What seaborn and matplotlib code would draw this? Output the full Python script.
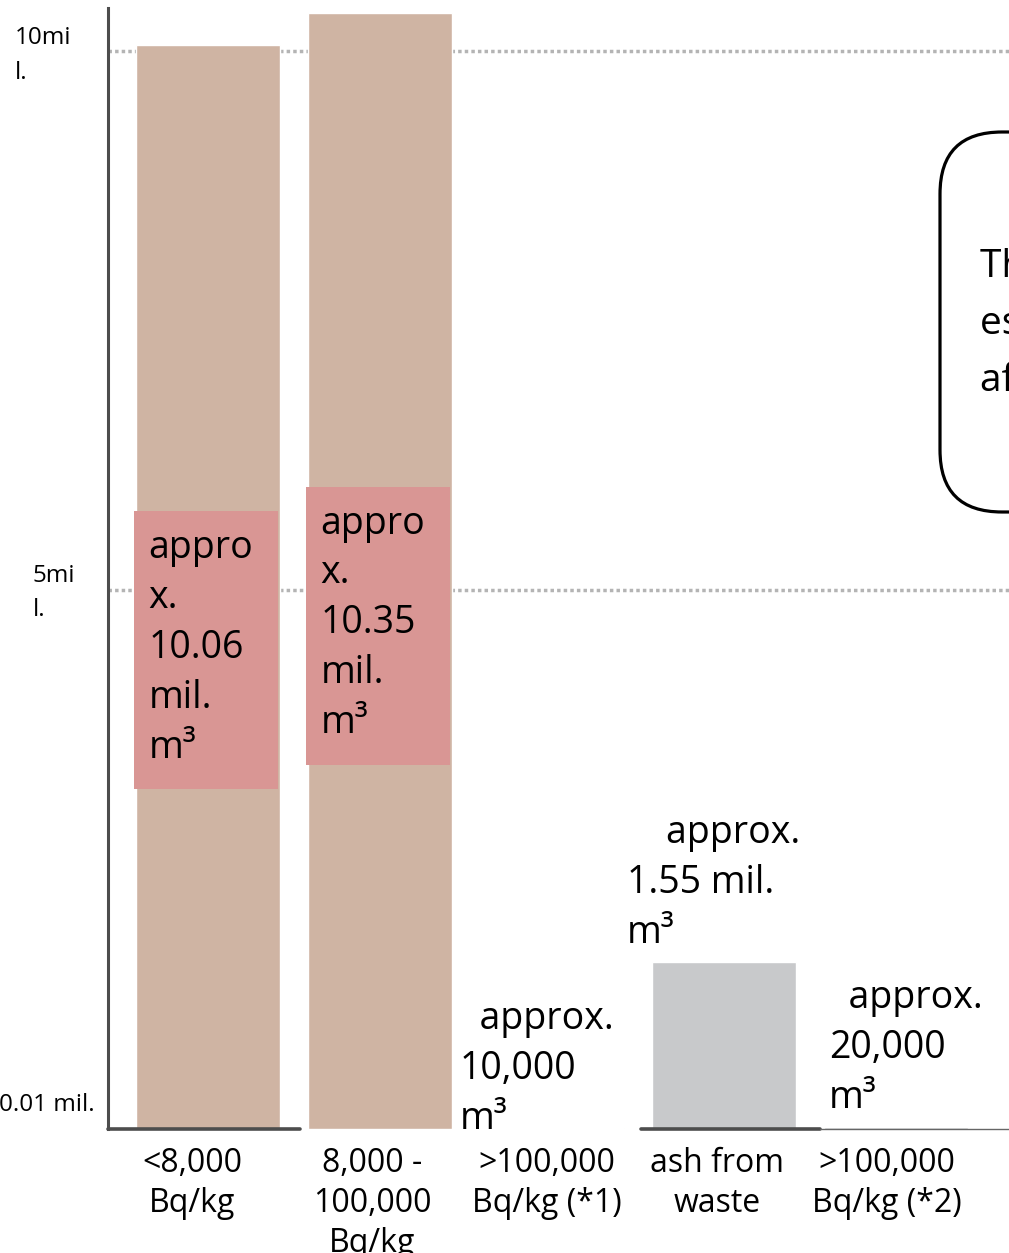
import matplotlib
matplotlib.use("Agg")
import matplotlib.pyplot as plt
import matplotlib.transforms as mtransforms
from matplotlib.patches import FancyBboxPatch, Rectangle
import seaborn as sns
import pandas as pd

# Waste volumes by radioactivity class (million m³)
categories = ["<8,000\nBq/kg", "8,000 -\n100,000\nBq/kg", ">100,000\nBq/kg (*1)",
              "ash from\nwaste", ">100,000\nBq/kg (*2)"]
volumes_mil_m3 = [10.06, 10.35, 0.01, 1.55, 0.02]
value_labels = ["appro\nx.\n10.06\nmil.\nm³", "appro\nx.\n10.35\nmil.\nm³",
                "  approx.\n10,000\nm³", "    approx.\n1.55 mil.\nm³",
                "  approx.\n20,000\nm³"]
ytick_values = [0.01, 5, 10]
ytick_labels = ["0.01 mil.", "5mi\nl.", "10mi\nl."]
note_text = "The total amount\nestimated to remain\nafter incineration"

bar_colors = ["#cfb4a3", "#cfb4a3", "#cfb4a3", "#c8c9cb", "#c8c9cb"]
tag_color = "#d99694"

W, H, DPI = 1009, 1253, 100
sns.set_theme(style="white")
plt.rcParams["font.family"] = ["Open Sans", "DejaVu Sans"]

fig = plt.figure(figsize=(W / DPI, H / DPI), dpi=DPI)
fig.patch.set_facecolor("white")
ax = fig.add_axes([108 / W, 1 - 1129 / H, (W - 108) / W, (1129 - 8) / H])

df = pd.DataFrame({"category": categories, "volume": volumes_mil_m3})
sns.barplot(data=df, x="category", y="volume", hue="category", palette=bar_colors,
            legend=False, width=0.84, saturation=1, ax=ax, zorder=2)

ax.set_xlim(-0.581, 4.657)
ax.set_ylim(0, 10.40)
ax.set_xlabel("")
ax.set_ylabel("")
for s in ["top", "right", "bottom"]:
    ax.spines[s].set_visible(False)
ax.spines["left"].set_color("#4d4d4d")
ax.spines["left"].set_linewidth(2.2)

# dotted reference lines
for v in [5, 10]:
    ax.axhline(v, color="#b4b4b4", lw=2.5, ls=(0, (1.0, 0.9)), zorder=1)

# baseline pieces
ax.axhline(0, xmin=0, xmax=(300 - 108) / 901, color="#4d4d4d", lw=2.6, zorder=3, clip_on=False)
ax.axhline(0, xmin=(641 - 108) / 901, xmax=(820 - 108) / 901, color="#4d4d4d", lw=2.6, zorder=3, clip_on=False)
ax.axhline(0, xmin=(820 - 108) / 901, xmax=1, color="#666666", lw=1.0, zorder=3, clip_on=False)

# y labels
ax.set_yticks([])
ytrans = ax.get_yaxis_transform()
y_offsets = [(-13, 23, "right"), (-75, -3, "left"), (-93, -4, "left")]
for v, lab, (dx, dy, ha) in zip(ytick_values, ytick_labels, y_offsets):
    ax.annotate(lab, xy=(0, v), xycoords=ytrans, xytext=(dx, dy), textcoords="offset pixels",
                ha=ha, va="center", fontsize=17.5, linespacing=1.6, color="black",
                annotation_clip=False)

# category labels
ax.tick_params(axis="x", length=0, pad=13, labelsize=23)
ax.set_xticks(range(len(categories)))
ax.set_xticklabels(categories, linespacing=1.27, color="black")
label_shifts = [-16, -8, -5, -7, -9]
for t, dx in zip(ax.get_xticklabels(), label_shifts):
    t.set_transform(t.get_transform() + mtransforms.ScaledTranslation(dx / DPI, 0, fig.dpi_scale_trans))

# value tags inside tall bars
bars = ax.patches
tag_spans = [(3.15, 5.73), (3.38, 5.96)]
for i, (y0, y1) in enumerate(tag_spans):
    b = bars[i]
    x0 = b.get_x() - 0.012
    ax.add_patch(Rectangle((x0, y0), b.get_width(), y1 - y0, color=tag_color, zorder=3, lw=0))
    ax.annotate(value_labels[i], xy=(x0, y1), xycoords="data", xytext=(15, -18),
                textcoords="offset pixels", ha="left", va="top", fontsize=27,
                linespacing=1.41, zorder=4, color="black")

# value labels above short bars
above_offsets = {2: (-92, -10), 3: (-97, 10), 4: (-67, 10)}
for i, (dx, dy) in above_offsets.items():
    b = bars[i]
    ax.annotate(value_labels[i], xy=(b.get_x() + b.get_width() / 2, volumes_mil_m3[i]),
                xycoords="data", xytext=(dx, dy), textcoords="offset pixels",
                ha="left", va="bottom", fontsize=27, linespacing=1.41, color="black",
                annotation_clip=False)

# rounded note box at right
box = FancyBboxPatch((940, H - 512), 400, 380, boxstyle="round,pad=0,rounding_size=62",
                     transform=mtransforms.IdentityTransform(), fc="white", ec="black", lw=2.3)
fig.add_artist(box)
fig.text(980 / W, 1 - 248 / H, note_text, ha="left", va="top", fontsize=28,
         linespacing=1.65, color="black")

fig.savefig("out.png", dpi=DPI)
